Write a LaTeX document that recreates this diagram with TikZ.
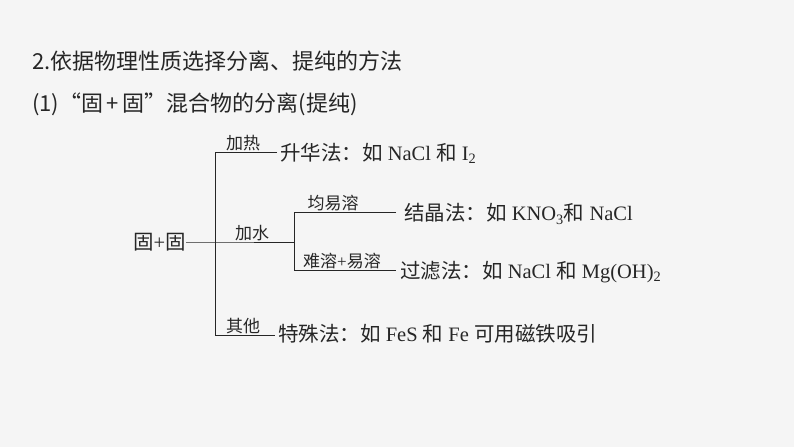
\documentclass[tikz,border=0pt]{standalone}
\usepackage{fontspec}
\setmainfont{Liberation Serif}
\newfontfamily\cjk{Noto Sans CJK SC}
\newfontfamily\cjkl{Noto Sans CJK SC}
\begin{document}
\begin{tikzpicture}[x=1pt,y=1pt,
  ln/.style={line width=0.8pt,black!85},
  title/.style={anchor=west,inner sep=0,font=\fontsize{22}{25}\selectfont\cjk,text=black!85},
  lab/.style={anchor=south,inner sep=1.5pt,font=\fontsize{17}{19}\selectfont,text=black!85},
  res/.style={anchor=west,inner sep=0,font=\fontsize{20.5}{22}\selectfont,text=black!85}]
\fill[black!4] (0,0) rectangle (794,447);
\useasboundingbox (0,0) rectangle (794,447);
\node[title] (t1) at (32,386) {2.依据物理性质选择分离、提纯的方法};
\node[title] (t2) at (32,343) {(1)“固\,+\,固”混合物的分离(提纯)};
\node[res,anchor=east] (root) at (186,205) {{\cjkl 固}+{\cjkl 固}};
\coordinate (j) at (215,205);
\coordinate (a1) at (215,295); \coordinate (a2) at (277,295);
\coordinate (c1) at (215,112); \coordinate (c2) at (275,112);
\coordinate (b2) at (294,205);
\coordinate (s1) at (294,235); \coordinate (s1e) at (396,235);
\coordinate (s2) at (294,177); \coordinate (s2e) at (396,177);
\draw[ln] (root.east) -- (j) -- (b2);
\draw[ln] (a2) -- (a1) -- (c1) -- (c2);
\draw[ln] (s1e) -- (s1) -- (s2) -- (s2e);
\node[lab] (l1) at (243,294) {\cjkl 加热};
\node[lab] (l2) at (252,204) {\cjkl 加水};
\node[lab] (l3) at (243,111) {\cjkl 其他};
\node[lab] (l4) at (333,234) {\cjkl 均易溶};
\node[lab] (l5) at (342,176) {{\cjkl 难溶}+{\cjkl 易溶}};
\node[res] (r1) at (280,294) {{\cjkl 升华法：如} NaCl {\cjkl 和} I\textsubscript{2}};
\node[res] (r2) at (404,233) {{\cjkl 结晶法：如} KNO\textsubscript{3}{\cjkl 和} NaCl};
\node[res] (r3) at (400,175) {{\cjkl 过滤法：如} NaCl {\cjkl 和} Mg(OH)\textsubscript{2}};
\node[res] (r4) at (278,113) {{\cjkl 特殊法：如} FeS {\cjkl 和} Fe {\cjkl 可用磁铁吸引}};
\end{tikzpicture}
\end{document}
